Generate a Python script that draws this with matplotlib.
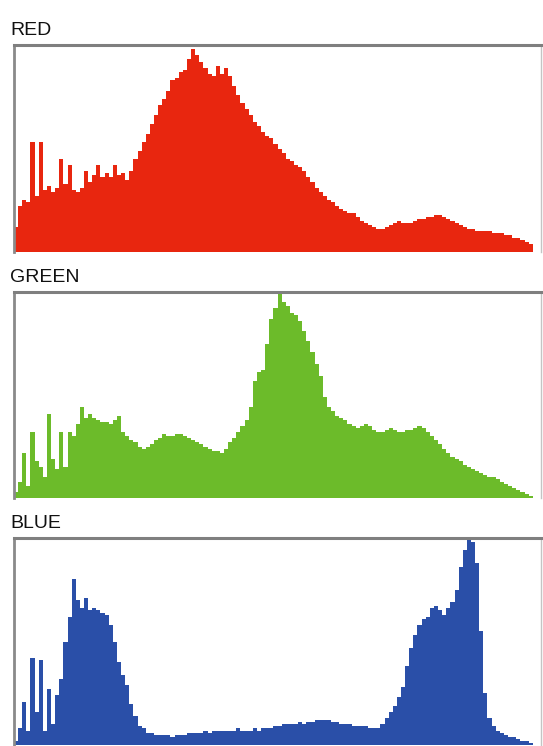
import numpy as np
import matplotlib
matplotlib.use('Agg')
import matplotlib.pyplot as plt

# histogram counts (percent of panel height), 128 bins
red = [12, 22, 25, 24, 53, 27, 53, 30, 32, 29, 31, 45, 33, 42, 30, 29,
       31, 39, 34, 37, 42, 36, 38, 36, 42, 37, 38, 35, 39, 45, 49, 53,
       57, 62, 66, 71, 74, 78, 83, 84, 87, 88, 93, 98, 95, 92, 89, 86,
       85, 90, 86, 89, 85, 80, 76, 72, 69, 66, 63, 61, 58, 56, 55, 52,
       50, 48, 45, 44, 42, 41, 39, 36, 34, 31, 29, 27, 25, 24, 22, 21,
       20, 19, 19, 17, 15, 14, 13, 12, 11, 11, 12, 13, 14, 15, 14, 14,
       14, 15, 16, 16, 17, 17, 18, 18, 17, 16, 15, 14, 13, 12, 11, 11,
       10, 10, 10, 10, 9, 9, 9, 8, 8, 7, 7, 6, 5, 4, 0, 0]

green = [3, 8, 22, 6, 32, 18, 15, 10, 41, 19, 14, 32, 15, 32, 30, 36,
         44, 39, 41, 39, 38, 37, 37, 36, 38, 40, 32, 30, 28, 27, 25, 24,
         25, 26, 28, 29, 31, 30, 30, 31, 31, 30, 29, 28, 27, 26, 25, 24,
         23, 23, 22, 24, 27, 29, 32, 35, 38, 44, 57, 61, 62, 75, 87, 92,
         99, 95, 93, 90, 89, 86, 81, 76, 71, 65, 59, 49, 44, 42, 40, 39,
         38, 36, 35, 34, 35, 36, 35, 33, 32, 32, 33, 34, 33, 32, 32, 33,
         33, 34, 35, 34, 32, 30, 28, 26, 24, 22, 20, 19, 18, 16, 15, 14,
         13, 12, 11, 10, 10, 9, 8, 7, 6, 5, 4, 3, 2, 1, 0, 0]

blue = [2, 8, 21, 7, 42, 16, 41, 7, 27, 10, 24, 32, 50, 62, 80, 70,
        66, 71, 65, 66, 65, 64, 63, 58, 50, 40, 34, 29, 20, 14, 9, 8,
        6, 6, 5, 5, 5, 5, 4, 5, 5, 5, 6, 6, 6, 6, 7, 6,
        7, 7, 7, 7, 7, 7, 8, 7, 7, 7, 8, 7, 8, 8, 8, 9,
        9, 10, 10, 10, 10, 11, 10, 11, 11, 12, 12, 12, 12, 11, 11, 10,
        10, 10, 9, 9, 9, 9, 8, 8, 8, 10, 13, 16, 19, 23, 28, 38,
        47, 53, 58, 61, 62, 66, 67, 65, 63, 66, 69, 75, 86, 94, 99, 98,
        88, 55, 25, 13, 9, 7, 6, 5, 4, 4, 3, 2, 2, 1, 0, 0]

names = ['RED', 'GREEN', 'BLUE']
colors = ['#e8260f', '#6cbb2a', '#2a4fa8']

W, H = 543, 746
fig = plt.figure(figsize=(W / 100, H / 100), dpi=100)

# panel boxes in pixels: (left, top, right, bottom)
boxes = [(14, 45, 541, 252), (14, 292, 541, 498), (14, 538, 541, 745)]

for name, vals, col, (l, t, r, b) in zip(names, [red, green, blue], colors, boxes):
    ax = fig.add_axes([l / W, 1 - b / H, (r - l) / W, (b - t) / H])
    edges = np.arange(len(vals) + 1) - 0.5
    ax.stairs(vals, edges, fill=True, color=col, linewidth=0)
    ax.set_xlim(-0.5, len(vals) - 0.5)
    ax.set_ylim(0, 100)
    ax.set_xticks([])
    ax.set_yticks([])
    ax.spines['top'].set_color('#7f7f7f')
    ax.spines['top'].set_linewidth(2.2)
    ax.spines['left'].set_color('#8a8a8a')
    ax.spines['left'].set_linewidth(2.0)
    ax.spines['right'].set_color('#c4c4c4')
    ax.spines['right'].set_linewidth(1.0)
    ax.spines['bottom'].set_visible(False)
    fig.text(10 / W, 1 - (t - 6) / H, name, fontsize=14,
             family='Liberation Sans', color='#111111', va='bottom', ha='left')

plt.savefig('out.png', dpi=100)
